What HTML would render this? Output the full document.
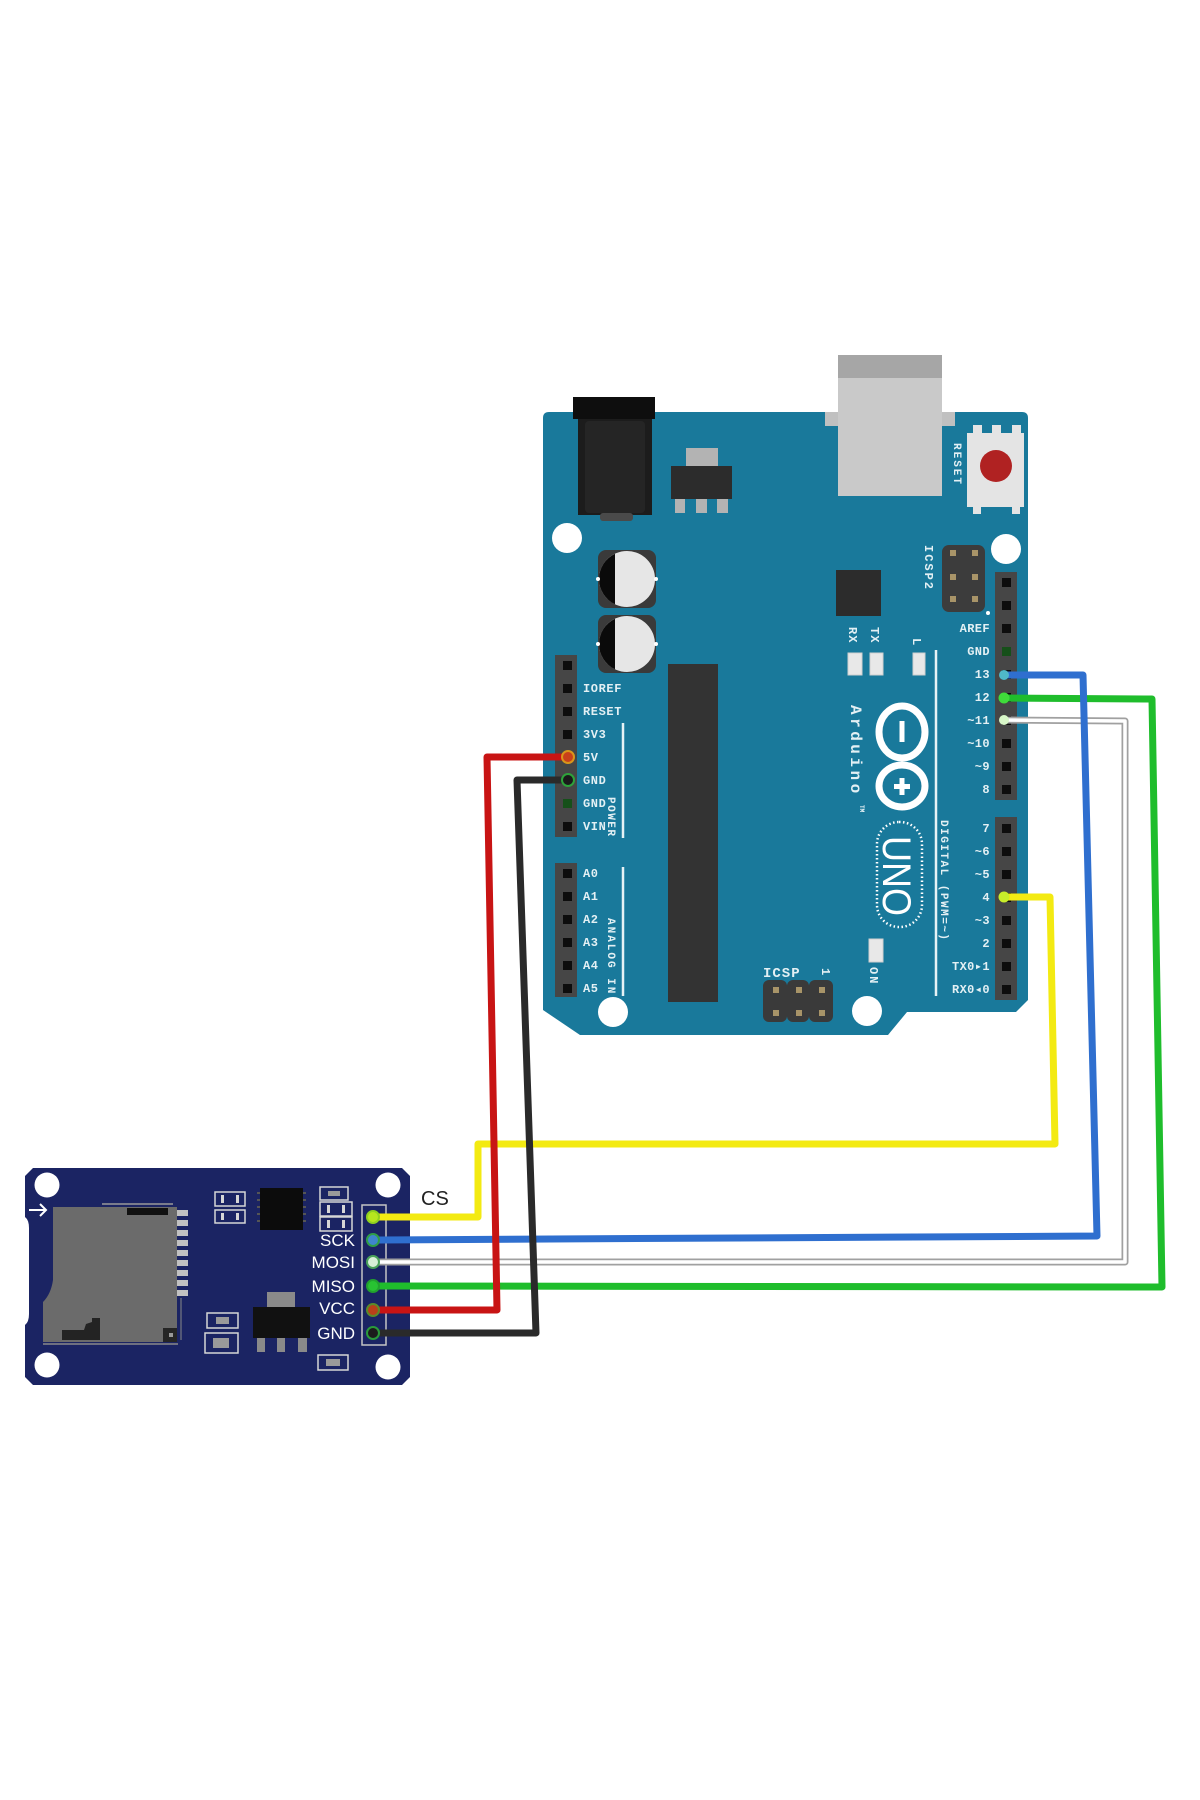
<!DOCTYPE html>
<html><head><meta charset="utf-8">
<style>html,body{margin:0;padding:0;background:#fff;}svg{display:block}</style>
</head>
<body>
<svg width="1200" height="1800" viewBox="0 0 1200 1800" xmlns="http://www.w3.org/2000/svg">
<rect width="1200" height="1800" fill="#fff"/>

<!-- ================= ARDUINO BOARD ================= -->
<path d="M549,412 L1022,412 Q1028,412 1028,418 L1028,1000 L1016,1012 L907,1012 L888,1035 L580,1035 L543,1010 L543,418 Q543,412 549,412 Z" fill="#19799b"/>

<!-- power jack -->
<rect x="578" y="419" width="74" height="96" fill="#1c1c1c"/>
<rect x="585" y="421" width="60" height="92" rx="4" fill="#252525"/>
<rect x="600" y="513" width="33" height="8" rx="3" fill="#4a4a4a"/>
<rect x="573" y="397" width="82" height="22" fill="#0e0e0e"/>

<!-- regulator -->
<rect x="686" y="448" width="32" height="18" fill="#b3b3b3"/>
<rect x="671" y="466" width="61" height="33" fill="#2c2c2c"/>
<rect x="675" y="499" width="10" height="14" fill="#b3b3b3"/>
<rect x="696" y="499" width="11" height="14" fill="#b3b3b3"/>
<rect x="717" y="499" width="11" height="14" fill="#b3b3b3"/>

<!-- USB -->
<rect x="825" y="412" width="130" height="14" fill="#c0c0c0"/>
<rect x="838" y="355" width="104" height="141" fill="#c9c9c9"/>
<rect x="838" y="355" width="104" height="23" fill="#a6a6a6"/>

<!-- reset button -->
<rect x="973" y="425" width="9" height="10" fill="#e4e4e4"/>
<rect x="992" y="425" width="9" height="10" fill="#e4e4e4"/>
<rect x="1012" y="425" width="9" height="10" fill="#e4e4e4"/>
<rect x="973" y="505" width="8" height="9" fill="#e4e4e4"/>
<rect x="1012" y="505" width="8" height="9" fill="#e4e4e4"/>
<rect x="967" y="433" width="57" height="74" fill="#e4e4e4"/>
<circle cx="996" cy="466" r="16" fill="#b02222"/>

<!-- mounting holes -->
<circle cx="567" cy="538" r="15" fill="#fff"/>
<circle cx="1006" cy="549" r="15" fill="#fff"/>
<circle cx="613" cy="1012" r="15" fill="#fff"/>
<circle cx="867" cy="1011" r="15" fill="#fff"/>

<!-- capacitors -->
<rect x="598" y="550" width="58" height="58" rx="8" fill="#3a3a3a"/>
<circle cx="627" cy="579" r="28" fill="#e6e6e6"/>
<path d="M615,553.7 A28,28 0 0 0 615,604.3 Z" fill="#0a0a0a"/>
<rect x="598" y="615" width="58" height="58" rx="8" fill="#3a3a3a"/>
<circle cx="627" cy="644" r="28" fill="#e6e6e6"/>
<path d="M615,618.7 A28,28 0 0 0 615,669.3 Z" fill="#0a0a0a"/>
<circle cx="598" cy="579" r="2" fill="#fff"/><circle cx="656" cy="579" r="2" fill="#fff"/>
<circle cx="598" cy="644" r="2" fill="#fff"/><circle cx="656" cy="644" r="2" fill="#fff"/>

<!-- ICSP2 -->
<rect x="942" y="545" width="43" height="67" rx="7" fill="#3c3c3c"/>
<g fill="#a89468">
<rect x="950" y="550" width="6" height="6"/><rect x="972" y="550" width="6" height="6"/>
<rect x="950" y="574" width="6" height="6"/><rect x="972" y="574" width="6" height="6"/>
<rect x="950" y="596" width="6" height="6"/><rect x="972" y="596" width="6" height="6"/>
</g>
<circle cx="988" cy="613" r="2" fill="#fff"/>

<!-- small chip -->
<rect x="836" y="570" width="45" height="46" fill="#2c2c2c"/>

<!-- LEDs -->
<rect x="848" y="653" width="14" height="22" fill="#e8e8e8" stroke="#cfcfcf"/>
<rect x="870" y="653" width="13" height="22" fill="#e8e8e8" stroke="#cfcfcf"/>
<rect x="913" y="653" width="12" height="22" fill="#e8e8e8" stroke="#cfcfcf"/>
<rect x="869" y="939" width="14" height="23" fill="#e8e8e8" stroke="#cfcfcf"/>

<!-- white separator lines -->
<line x1="936" y1="650" x2="936" y2="996" stroke="#e6f2f5" stroke-width="2.5"/>
<line x1="623" y1="723" x2="623" y2="838" stroke="#e6f2f5" stroke-width="2.5"/>
<line x1="623" y1="867" x2="623" y2="996" stroke="#e6f2f5" stroke-width="2.5"/>

<!-- ATmega chip -->
<rect x="668" y="664" width="50" height="338" fill="#333333"/>

<!-- ICSP bottom -->
<rect x="763" y="980" width="24" height="42" rx="6" fill="#3a3a3a"/>
<rect x="787" y="980" width="22" height="42" rx="6" fill="#3a3a3a"/>
<rect x="809" y="980" width="24" height="42" rx="6" fill="#3a3a3a"/>
<g fill="#a89468">
<rect x="773" y="987" width="6" height="6"/><rect x="796" y="987" width="6" height="6"/><rect x="819" y="987" width="6" height="6"/>
<rect x="773" y="1010" width="6" height="6"/><rect x="796" y="1010" width="6" height="6"/><rect x="819" y="1010" width="6" height="6"/>
</g>

<!-- Arduino logo -->
<ellipse cx="902" cy="732" rx="23" ry="26" fill="none" stroke="#fff" stroke-width="7"/>
<ellipse cx="902" cy="786" rx="23" ry="21" fill="none" stroke="#fff" stroke-width="7"/>
<rect x="899.5" y="721" width="5" height="21" fill="#fff"/>
<rect x="899.5" y="778" width="5" height="17" fill="#fff"/>
<rect x="894" y="784" width="16" height="5" fill="#fff"/>

<!-- UNO oval -->
<rect x="877" y="822" width="45" height="105" rx="22" fill="none" stroke="#fff" stroke-width="2.5" stroke-dasharray="1.5 2.5"/>
<text transform="translate(883,876) rotate(90)" font-family="Liberation Sans, sans-serif" font-size="40" fill="#fff" text-anchor="middle" textLength="80" lengthAdjust="spacingAndGlyphs">UNO</text>

<!-- headers -->
<rect x="555" y="655" width="22" height="182" fill="#464646"/>
<rect x="555" y="863" width="22" height="134" fill="#464646"/>
<rect x="995" y="572" width="22" height="228" fill="#464646"/>
<rect x="995" y="817" width="22" height="183" fill="#464646"/>
<g fill="#0d0d0d">
<rect x="563" y="661" width="9" height="9"/><rect x="563" y="684" width="9" height="9"/><rect x="563" y="707" width="9" height="9"/><rect x="563" y="730" width="9" height="9"/><rect x="563" y="753" width="9" height="9"/><rect x="563" y="776" width="9" height="9"/><rect x="563" y="822" width="9" height="9"/>
<rect x="563" y="869" width="9" height="9"/><rect x="563" y="892" width="9" height="9"/><rect x="563" y="915" width="9" height="9"/><rect x="563" y="938" width="9" height="9"/><rect x="563" y="961" width="9" height="9"/><rect x="563" y="984" width="9" height="9"/>
<rect x="1002" y="578" width="9" height="9"/><rect x="1002" y="601" width="9" height="9"/><rect x="1002" y="624" width="9" height="9"/><rect x="1002" y="670" width="9" height="9"/><rect x="1002" y="693" width="9" height="9"/><rect x="1002" y="716" width="9" height="9"/><rect x="1002" y="739" width="9" height="9"/><rect x="1002" y="762" width="9" height="9"/><rect x="1002" y="785" width="9" height="9"/>
<rect x="1002" y="824" width="9" height="9"/><rect x="1002" y="847" width="9" height="9"/><rect x="1002" y="870" width="9" height="9"/><rect x="1002" y="893" width="9" height="9"/><rect x="1002" y="916" width="9" height="9"/><rect x="1002" y="939" width="9" height="9"/><rect x="1002" y="962" width="9" height="9"/><rect x="1002" y="985" width="9" height="9"/>
</g>
<rect x="563" y="799" width="9" height="9" fill="#16501a"/>
<rect x="1002" y="647" width="9" height="9" fill="#16501a"/>

<!-- board labels -->
<g font-family="Liberation Mono, DejaVu Sans Mono, monospace" font-weight="bold" font-size="12" fill="#e3f0f4" letter-spacing="0.6">
<text x="583" y="692">IOREF</text>
<text x="583" y="715">RESET</text>
<text x="583" y="738">3V3</text>
<text x="583" y="761">5V</text>
<text x="583" y="784">GND</text>
<text x="583" y="807">GND</text>
<text x="583" y="830">VIN</text>
<text x="583" y="877">A0</text>
<text x="583" y="900">A1</text>
<text x="583" y="923">A2</text>
<text x="583" y="946">A3</text>
<text x="583" y="969">A4</text>
<text x="583" y="992">A5</text>
</g>
<g font-family="Liberation Mono, DejaVu Sans Mono, monospace" font-weight="bold" font-size="12" fill="#e3f0f4" text-anchor="end" letter-spacing="0.4">
<text x="990" y="632">AREF</text>
<text x="990" y="655">GND</text>
<text x="990" y="678">13</text>
<text x="990" y="701">12</text>
<text x="990" y="724">~11</text>
<text x="990" y="747">~10</text>
<text x="990" y="770">~9</text>
<text x="990" y="793">8</text>
<text x="990" y="832">7</text>
<text x="990" y="855">~6</text>
<text x="990" y="878">~5</text>
<text x="990" y="901">4</text>
<text x="990" y="924">~3</text>
<text x="990" y="947">2</text>
<text x="990" y="970">TX0▸1</text>
<text x="990" y="993">RX0◂0</text>
</g>
<g font-family="Liberation Mono, DejaVu Sans Mono, monospace" font-weight="bold" fill="#e3f0f4">
<text transform="translate(954,443) rotate(90)" font-size="11" letter-spacing="2">RESET</text>
<text transform="translate(925,545) rotate(90)" font-size="12" letter-spacing="2">ICSP2</text>
<text transform="translate(849,627) rotate(90)" font-size="12" letter-spacing="1">RX</text>
<text transform="translate(871,627) rotate(90)" font-size="12" letter-spacing="1">TX</text>
<text transform="translate(913,638) rotate(90)" font-size="12">L</text>
<text transform="translate(851,705) rotate(90)" font-size="16" letter-spacing="3.5">Arduino</text>
<text transform="translate(860,805) rotate(90)" font-size="6">TM</text>
<text transform="translate(941,820) rotate(90)" font-size="11" letter-spacing="1.5">DIGITAL (PWM=~)</text>
<text transform="translate(608,797) rotate(90)" font-size="11" letter-spacing="1.5">POWER</text>
<text transform="translate(608,918) rotate(90)" font-size="11" letter-spacing="2">ANALOG IN</text>
<text transform="translate(870,967) rotate(90)" font-size="12" letter-spacing="2">ON</text>
<text transform="translate(822,968) rotate(90)" font-size="12">1</text>
<text x="763" y="977" font-size="14" letter-spacing="1">ICSP</text>
</g>

<!-- ================= SD MODULE ================= -->
<path d="M33,1168 L402,1168 L410,1176 L410,1377 L402,1385 L33,1385 L25,1377 L25,1325 Q29,1322 29,1314 L29,1228 Q29,1220 25,1217 L25,1176 Z" fill="#1b2463"/>
<circle cx="47" cy="1185" r="12.5" fill="#fff"/>
<circle cx="388" cy="1185" r="12.5" fill="#fff"/>
<circle cx="47" cy="1365" r="12.5" fill="#fff"/>
<circle cx="388" cy="1367" r="12.5" fill="#fff"/>

<!-- arrow -->
<line x1="29" y1="1210" x2="46" y2="1210" stroke="#fff" stroke-width="2"/>
<polyline points="40,1204 46,1210 40,1216" fill="none" stroke="#fff" stroke-width="2"/>

<!-- SD slot -->
<path d="M53,1207 L177,1207 L177,1342 L43,1342 L43,1302 Q51,1294 53,1280 Z" fill="#6b6b6b"/>
<line x1="102" y1="1204" x2="173" y2="1204" stroke="#9a9a9a" stroke-width="1.5"/>
<line x1="43" y1="1344" x2="178" y2="1344" stroke="#8a8a8a" stroke-width="1.5"/>
<line x1="181" y1="1298" x2="181" y2="1340" stroke="#8a8a8a" stroke-width="1"/>
<rect x="127" y="1208" width="41" height="7" fill="#111"/>
<g fill="#c2c2c2">
<rect x="177" y="1210" width="11" height="6"/><rect x="177" y="1220" width="11" height="6"/><rect x="177" y="1230" width="11" height="6"/>
<rect x="177" y="1240" width="11" height="6"/><rect x="177" y="1250" width="11" height="6"/><rect x="177" y="1260" width="11" height="6"/>
<rect x="177" y="1270" width="11" height="6"/><rect x="177" y="1280" width="11" height="6"/><rect x="177" y="1290" width="11" height="6"/>
</g>
<path d="M62,1340 L62,1330 L84,1330 L86,1324 L92,1322 L92,1318 L100,1318 L100,1340 Z" fill="#232323"/>
<rect x="163" y="1328" width="14" height="14" fill="#252525"/>
<rect x="169" y="1333" width="4" height="4" fill="#999"/>

<!-- small components -->
<g fill="none" stroke="#d6d6d6" stroke-width="1.5">
<rect x="215" y="1192" width="30" height="14"/>
<rect x="215" y="1210" width="30" height="13"/>
<rect x="320" y="1187" width="28" height="13"/>
<rect x="320" y="1202" width="32" height="14"/>
<rect x="320" y="1217" width="32" height="14"/>
<rect x="207" y="1313" width="31" height="15"/>
<rect x="205" y="1333" width="33" height="20"/>
<rect x="318" y="1355" width="30" height="15"/>
</g>
<g fill="#d6d6d6">
<rect x="221" y="1195" width="3" height="8"/><rect x="236" y="1195" width="3" height="8"/>
<rect x="221" y="1213" width="3" height="7"/><rect x="236" y="1213" width="3" height="7"/>
<rect x="327" y="1205" width="3" height="8"/><rect x="342" y="1205" width="3" height="8"/>
<rect x="327" y="1220" width="3" height="8"/><rect x="342" y="1220" width="3" height="8"/>
</g>
<g fill="#9a9a9a">
<rect x="328" y="1191" width="12" height="5"/>
<rect x="216" y="1317" width="13" height="7"/>
<rect x="213" y="1338" width="16" height="10"/>
<rect x="326" y="1359" width="14" height="7"/>
</g>
<!-- chip -->
<rect x="260" y="1188" width="43" height="42" fill="#0c0c0c"/>
<g fill="#555">
<rect x="257" y="1192" width="3" height="2"/><rect x="257" y="1199" width="3" height="2"/><rect x="257" y="1206" width="3" height="2"/><rect x="257" y="1213" width="3" height="2"/><rect x="257" y="1220" width="3" height="2"/>
<rect x="303" y="1192" width="3" height="2"/><rect x="303" y="1199" width="3" height="2"/><rect x="303" y="1206" width="3" height="2"/><rect x="303" y="1213" width="3" height="2"/><rect x="303" y="1220" width="3" height="2"/>
</g>
<!-- regulator -->
<rect x="267" y="1292" width="28" height="15" fill="#8a8a8a"/>
<rect x="253" y="1307" width="57" height="31" fill="#111"/>
<rect x="257" y="1338" width="8" height="14" fill="#8a8a8a"/>
<rect x="277" y="1338" width="8" height="14" fill="#8a8a8a"/>
<rect x="298" y="1338" width="9" height="14" fill="#8a8a8a"/>

<!-- header -->
<rect x="362" y="1205" width="24" height="140" fill="none" stroke="#c4c4c4" stroke-width="1.5"/>

<!-- SD labels -->
<g font-family="Liberation Sans, sans-serif" font-size="17" fill="#fff" text-anchor="end">
<text x="355" y="1246">SCK</text>
<text x="355" y="1268">MOSI</text>
<text x="355" y="1292">MISO</text>
<text x="355" y="1314">VCC</text>
<text x="355" y="1339">GND</text>
</g>
<text x="421" y="1205" font-family="Liberation Sans, sans-serif" font-size="20" fill="#222">CS</text>

<!-- ================= WIRES ================= -->
<g fill="none" stroke-linejoin="round" stroke-linecap="round">
<path d="M1003,698 L1152,699 L1162,1287 L373,1286" stroke="#1fbd2c" stroke-width="7"/>
<path d="M1003,720 L1125,721 L1125,1262 L373,1262" stroke="#a0a0a0" stroke-width="7"/>
<path d="M1003,720 L1125,721 L1125,1262 L373,1262" stroke="#ffffff" stroke-width="3.5"/>
<path d="M1003,897 L1050,897 L1055,1144 L478,1144 L478,1217 L373,1217" stroke="#f3ea12" stroke-width="7"/>
<path d="M1003,675 L1083,675 L1097,1236 L373,1240" stroke="#2f6fcf" stroke-width="7"/>
<path d="M568,757 L487,757 L497,1310 L373,1310" stroke="#c81414" stroke-width="7"/>
<path d="M568,780 L517,780 L536,1333 L373,1333" stroke="#2a2a2a" stroke-width="7"/>
</g>

<!-- pin ends arduino -->
<circle cx="1004" cy="675" r="5" fill="#4fb8c8"/>
<circle cx="1004" cy="698" r="5.5" fill="#3fdc3a"/>
<circle cx="1004" cy="720" r="5" fill="#d8f7c8"/>
<circle cx="1004" cy="897" r="5.5" fill="#c8ee2a"/>
<circle cx="568" cy="757" r="6" fill="#c8401a" stroke="#d9961a" stroke-width="2"/>
<circle cx="568" cy="780" r="6" fill="#1a1a1a" stroke="#2ea23a" stroke-width="2"/>

<!-- pin ends SD -->
<circle cx="373" cy="1217" r="6" fill="#b6e61e" stroke="#8fd020" stroke-width="2"/>
<circle cx="373" cy="1240" r="6" fill="#3f86cc" stroke="#2f9e46" stroke-width="2"/>
<circle cx="373" cy="1262" r="6" fill="#d8f0d8" stroke="#4aa25a" stroke-width="2"/>
<circle cx="373" cy="1286" r="6" fill="#28c232" stroke="#22a02e" stroke-width="2"/>
<circle cx="373" cy="1310" r="6" fill="#b8401a" stroke="#5a8a2a" stroke-width="2"/>
<circle cx="373" cy="1333" r="6" fill="#1c1c1c" stroke="#2a9a3a" stroke-width="2"/>
</svg>
</body></html>
